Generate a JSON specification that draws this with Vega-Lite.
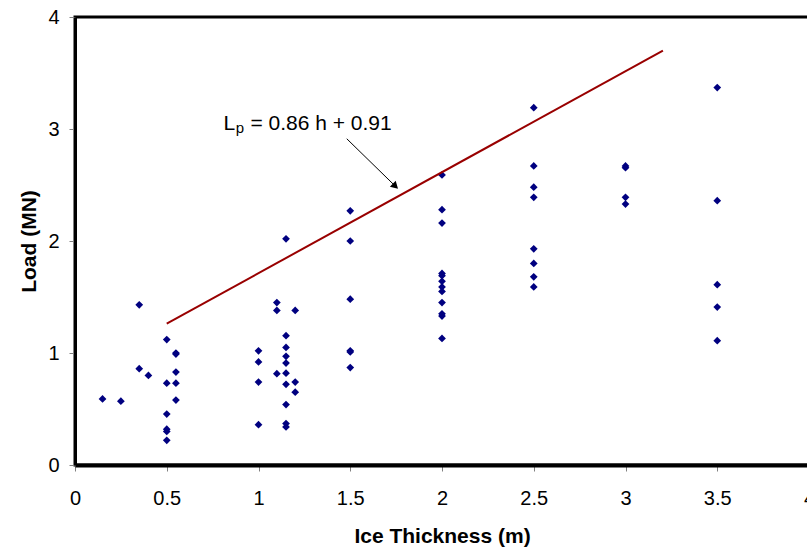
{
  "$schema": "https://vega.github.io/schema/vega-lite/v6.json",
  "width": 734,
  "height": 448,
  "autosize": {"type": "none"},
  "padding": {"left": 75, "top": 17, "right": 0, "bottom": 83},
  "background": "white",
  "config": {
    "view": {"stroke": "black", "strokeWidth": 3},
    "font": "Liberation Sans",
    "axis": {
      "grid": false,
      "domainColor": "black",
      "domainWidth": 3,
      "tickColor": "#808080",
      "tickSize": 6,
      "tickWidth": 1,
      "labelFont": "Liberation Sans",
      "labelFontSize": 20,
      "labelColor": "black",
      "titleFont": "Liberation Sans",
      "titleFontSize": 21,
      "titleFontWeight": "bold",
      "titleColor": "black"
    }
  },
  "datasets": {
    "pts": [
      {"h": 0.15, "L": 0.59}, {"h": 0.25, "L": 0.57},
      {"h": 0.35, "L": 1.43}, {"h": 0.35, "L": 0.86}, {"h": 0.40, "L": 0.80},
      {"h": 0.50, "L": 1.12}, {"h": 0.50, "L": 0.73}, {"h": 0.50, "L": 0.455}, {"h": 0.50, "L": 0.32}, {"h": 0.50, "L": 0.30}, {"h": 0.50, "L": 0.22},
      {"h": 0.55, "L": 1.00}, {"h": 0.55, "L": 0.99}, {"h": 0.55, "L": 0.83}, {"h": 0.55, "L": 0.73}, {"h": 0.55, "L": 0.58},
      {"h": 1.00, "L": 1.02}, {"h": 1.00, "L": 0.92}, {"h": 1.00, "L": 0.74}, {"h": 1.00, "L": 0.36},
      {"h": 1.10, "L": 1.45}, {"h": 1.10, "L": 1.38}, {"h": 1.10, "L": 0.815},
      {"h": 1.15, "L": 2.02}, {"h": 1.15, "L": 1.155}, {"h": 1.15, "L": 1.05}, {"h": 1.15, "L": 0.97}, {"h": 1.15, "L": 0.91}, {"h": 1.15, "L": 0.82}, {"h": 1.15, "L": 0.72}, {"h": 1.15, "L": 0.54}, {"h": 1.15, "L": 0.37}, {"h": 1.15, "L": 0.34},
      {"h": 1.20, "L": 1.38}, {"h": 1.20, "L": 0.74}, {"h": 1.20, "L": 0.65},
      {"h": 1.50, "L": 2.27}, {"h": 1.50, "L": 2.00}, {"h": 1.50, "L": 1.48}, {"h": 1.50, "L": 1.02}, {"h": 1.50, "L": 1.01}, {"h": 1.50, "L": 0.87},
      {"h": 2.00, "L": 2.59}, {"h": 2.00, "L": 2.28}, {"h": 2.00, "L": 2.16}, {"h": 2.00, "L": 1.71}, {"h": 2.00, "L": 1.69}, {"h": 2.00, "L": 1.64}, {"h": 2.00, "L": 1.59}, {"h": 2.00, "L": 1.55}, {"h": 2.00, "L": 1.45}, {"h": 2.00, "L": 1.35}, {"h": 2.00, "L": 1.33}, {"h": 2.00, "L": 1.13},
      {"h": 2.50, "L": 3.19}, {"h": 2.50, "L": 2.67}, {"h": 2.50, "L": 2.48}, {"h": 2.50, "L": 2.39}, {"h": 2.50, "L": 1.93}, {"h": 2.50, "L": 1.80}, {"h": 2.50, "L": 1.68}, {"h": 2.50, "L": 1.59},
      {"h": 3.00, "L": 2.67}, {"h": 3.00, "L": 2.655}, {"h": 3.00, "L": 2.39}, {"h": 3.00, "L": 2.33},
      {"h": 3.50, "L": 3.37}, {"h": 3.50, "L": 2.36}, {"h": 3.50, "L": 1.61}, {"h": 3.50, "L": 1.41}, {"h": 3.50, "L": 1.11}
    ],
    "fit": [{"h": 0.5, "L": 1.262}, {"h": 3.204, "L": 3.70}],
    "arrow": [{"h": 1.481, "L": 2.913}, {"h": 1.746, "L": 2.489}],
    "head": [{"h": 1.746, "L": 2.489}],
    "labels": [
      {"h": 0.809, "L": 2.99, "t": "L", "kind": "main"},
      {"h": 0.876, "L": 2.964, "t": "p", "kind": "sub"},
      {"h": 0.956, "L": 2.99, "t": "= 0.86 h + 0.91", "kind": "main"}
    ]
  },
  "layer": [
    {
      "data": {"name": "pts"},
      "mark": {"type": "point", "shape": "diamond", "filled": true, "size": 60, "color": "#000080", "opacity": 1, "strokeWidth": 0},
      "encoding": {
        "x": {"field": "h", "type": "quantitative", "scale": {"domain": [0, 4], "nice": false},
              "axis": {"values": [0, 0.5, 1, 1.5, 2, 2.5, 3, 3.5, 4], "format": "~g", "title": "Ice Thickness (m)", "labelFlush": false, "labelPadding": 17, "titlePadding": 17, "domainWidth": 4}},
        "y": {"field": "L", "type": "quantitative", "scale": {"domain": [0, 4], "nice": false},
              "axis": {"values": [0, 1, 2, 3, 4], "format": "~g", "title": "Load (MN)", "labelFlush": false, "labelPadding": 10, "titlePadding": 8}}
      }
    },
    {
      "data": {"name": "fit"},
      "mark": {"type": "line", "color": "#990000", "strokeWidth": 2},
      "encoding": {
        "x": {"field": "h", "type": "quantitative"},
        "y": {"field": "L", "type": "quantitative"}
      }
    },
    {
      "data": {"name": "arrow"},
      "mark": {"type": "line", "color": "black", "strokeWidth": 1},
      "encoding": {
        "x": {"field": "h", "type": "quantitative"},
        "y": {"field": "L", "type": "quantitative"}
      }
    },
    {
      "data": {"name": "head"},
      "mark": {"type": "point", "shape": "triangle-right", "filled": true, "size": 70, "color": "black", "opacity": 1, "angle": 44, "strokeWidth": 0},
      "encoding": {
        "x": {"field": "h", "type": "quantitative"},
        "y": {"field": "L", "type": "quantitative"}
      }
    },
    {
      "data": {"name": "labels"},
      "transform": [{"filter": "datum.kind == 'main'"}],
      "mark": {"type": "text", "align": "left", "baseline": "alphabetic", "fontSize": 21, "font": "Liberation Sans", "color": "black"},
      "encoding": {
        "x": {"field": "h", "type": "quantitative"},
        "y": {"field": "L", "type": "quantitative"},
        "text": {"field": "t"}
      }
    },
    {
      "data": {"name": "labels"},
      "transform": [{"filter": "datum.kind == 'sub'"}],
      "mark": {"type": "text", "align": "left", "baseline": "alphabetic", "fontSize": 15, "font": "Liberation Sans", "color": "black"},
      "encoding": {
        "x": {"field": "h", "type": "quantitative"},
        "y": {"field": "L", "type": "quantitative"},
        "text": {"field": "t"}
      }
    }
  ]
}
